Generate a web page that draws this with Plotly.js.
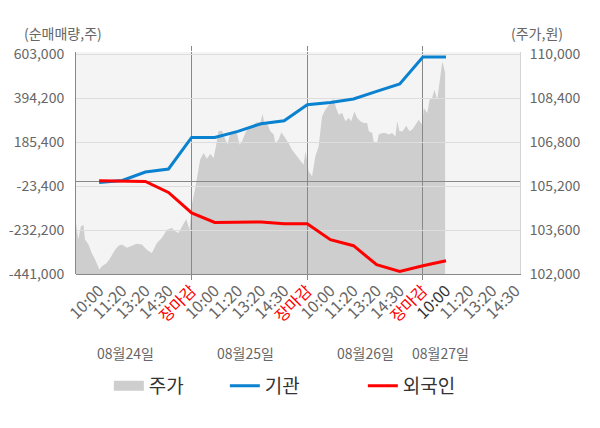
<!DOCTYPE html>
<html>
<head>
<meta charset="utf-8">
<script src="https://cdn.plot.ly/plotly-3.0.1.min.js"></script>
<style>
  html, body { margin: 0; padding: 0; background: #fff; }
  #chart { width: 600px; height: 428px; }
</style>
</head>
<body>
<div id="chart"></div>
<script>
// 주가 (원) - 분봉 흐름을 눈으로 읽은 값
const priceX = [-1.0,-0.9,-0.79,-0.68,-0.61,-0.46,-0.32,-0.17,0.01,0.12,0.22,0.33,0.48,0.69,0.84,0.98,
  1.2,1.42,1.63,1.85,2.06,2.28,2.5,2.71,2.93,3.15,3.29,3.43,3.58,3.77,3.91,
  4.01,4.16,4.26,4.37,4.52,4.66,4.81,4.95,5.05,5.16,5.31,5.45,5.55,5.67,5.81,5.96,
  6.07,6.18,6.32,6.46,6.68,6.83,6.97,7.07,7.14,7.26,7.4,7.55,7.62,7.76,7.88,
  8.05,8.19,8.34,8.56,8.7,8.84,8.93,9.06,9.21,9.35,9.49,9.64,9.78,
  10.0,10.14,10.25,10.36,10.51,10.65,10.79,10.9,11.04,11.16,11.3,11.44,11.59,11.66,11.81,11.87,
  12.02,12.09,12.24,12.38,12.52,12.67,12.81,12.89,12.99,13.13,13.28,13.42,13.56,13.68,13.82,13.97,
  14.04,14.19,14.29,14.4,14.5,14.62,14.72,14.84,14.9,14.96];
const priceY = [103850,103250,103730,103790,103250,103070,102760,102520,102160,102280,102340,102400,102580,102880,103030,103070,
  102950,103030,103100,103070,102880,102760,103130,103310,103610,103670,103550,103490,103730,104000,103610,
  104520,105140,105610,106160,106400,106190,106370,106220,106640,107190,107210,106880,106700,107130,107190,107130,
  106700,106820,107130,107310,107450,107530,107490,107830,107490,107490,107190,107070,106760,106880,107150,
  106950,106760,106520,106280,106090,105970,106460,105730,105550,106280,106630,107730,107970,
  108220,108360,108040,107790,107850,107550,107670,107550,107910,107670,107550,107490,107490,107190,107130,106820,
  106760,107070,107130,107130,107070,107130,107000,107550,107190,107190,107390,107190,107270,107430,107610,107430,
  108040,107850,108340,108400,108700,108340,109000,109720,109550,109310];

// 투자자별 누적 순매매량 (주) - 10:00, 11:20, 13:20, 14:30, 장마감
const slotX = [0,1,2,3,4,5,6,7,8,9,10,11,12,13,14,15];
const instNet = [-6300,3200,43000,57300,207200,207200,235700,272200,286500,362400,373300,389500,425500,460600,588800,588800];
const foreignNet = [1800,-1600,-1600,-53800,-151500,-196100,-196100,-194200,-202300,-202300,-278200,-306700,-396900,-428700,-401600,-377900];

// 축 눈금
const slotLabels = ['10:00','11:20','13:20','14:30','장마감','10:00','11:20','13:20','14:30','장마감',
  '10:00','11:20','13:20','14:30','장마감','10:00','11:20','13:20','14:30'];
const closeSlots = [4, 9, 14];
const netTicks = [-441000,-232200,-23400,185400,394200,603000];
const priceTicks = [102000,103600,105200,106800,108400,110000];
const dayLabels = ['08월24일','08월25일','08월26일','08월27일'];
const dayLabelX = [1.13, 6.33, 11.53, 14.77];

const FONT = '"Noto Sans CJK KR", "Noto Sans", sans-serif';
const fmt = v => v.toLocaleString('en-US');

const tickText = slotLabels.map((s, i) => {
  if (s === '장마감') return '<span style="color:#ff0000">' + s + '</span>';
  if (i === 15) return '<span style="color:#333333">' + s + '</span>';
  return s;
});

const traces = [
  {
    x: priceX, y: priceY, type: 'scatter', mode: 'lines',
    fill: 'tozeroy', fillcolor: '#cecece', line: { width: 0, color: '#cecece' },
    xaxis: 'x', yaxis: 'y', showlegend: false, hoverinfo: 'skip'
  },
  {
    x: [null], y: [null], type: 'scatter', mode: 'lines', name: '주가',
    line: { color: '#cecece', width: 15 }, xaxis: 'x', yaxis: 'y', legendwidth: 71
  },
  {
    x: slotX, y: instNet, type: 'scatter', mode: 'lines', name: '기관',
    line: { color: '#0a82d0', width: 3 }, xaxis: 'x2', yaxis: 'y2', legendwidth: 93
  },
  {
    x: slotX, y: foreignNet, type: 'scatter', mode: 'lines', name: '외국인',
    line: { color: '#ff0000', width: 3 }, xaxis: 'x2', yaxis: 'y2'
  }
];

const xRange = [-1.0, 18.2];

const layout = {
  width: 600, height: 428,
  margin: { l: 76, r: 80, t: 52, b: 154 },
  paper_bgcolor: '#ffffff',
  plot_bgcolor: 'rgba(0,0,0,0)',
  font: { family: FONT, color: '#666666', size: 14 },
  showlegend: true,
  legend: {
    orientation: 'h', x: 0.074, xanchor: 'left', y: -0.5045, yanchor: 'middle',
    font: { size: 19, color: '#333333' }, bgcolor: 'rgba(0,0,0,0)'
  },
  // 가격 영역 (아래 레이어)
  xaxis: {
    range: xRange, domain: [0, 1], anchor: 'y',
    tickmode: 'array', tickvals: slotLabels.map((_, i) => i), ticktext: tickText,
    tickangle: -45, tickfont: { size: 16, color: '#666666' },
    showgrid: false, zeroline: false, showline: true, linecolor: '#888888', ticks: ''
  },
  yaxis: {
    range: [102000, 110072], side: 'right', anchor: 'x',
    tickmode: 'array', tickvals: priceTicks, ticktext: priceTicks.map(fmt),
    tickfont: { size: 14, color: '#666666' }, ticklabelstandoff: 6,
    showgrid: false, zeroline: false, showline: true, linecolor: '#d4d4d4', ticks: ''
  },
  // 순매매량 선 (위 레이어)
  xaxis2: {
    range: xRange, domain: [0, 1], anchor: 'y2',
    tickmode: 'array', tickvals: closeSlots, showticklabels: false,
    showgrid: true, gridcolor: '#888888', gridwidth: 1,
    ticks: 'outside', ticklen: 5, tickcolor: '#888888', mirror: 'ticks',
    zeroline: false, showline: false
  },
  yaxis2: {
    range: [-441000, 612500], side: 'left', anchor: 'x2',
    tickmode: 'array', tickvals: netTicks, ticktext: netTicks.map(fmt),
    tickfont: { size: 14, color: '#666666' }, ticklabelstandoff: 8,
    showgrid: true, gridcolor: '#dddddd', gridwidth: 1,
    zeroline: true, zerolinecolor: '#888888', zerolinewidth: 1,
    showline: true, linecolor: '#888888', ticks: ''
  },
  shapes: [
    { type: 'rect', xref: 'paper', yref: 'paper', x0: 0, x1: 1, y0: 0, y1: 1,
      fillcolor: '#f4f4f4', line: { width: 0 }, layer: 'below' }
  ],
  annotations: [
    { text: '(순매매량,주)', xref: 'paper', yref: 'paper', x: -0.1216, y: 1.0856,
      xanchor: 'left', yanchor: 'middle', showarrow: false, font: { size: 14, color: '#666666' } },
    { text: '(주가,원)', xref: 'paper', yref: 'paper', x: 0.975, y: 1.0856,
      xanchor: 'left', yanchor: 'middle', showarrow: false, font: { size: 14, color: '#666666' } }
  ].concat(dayLabels.map((d, i) => ({
    text: d, xref: 'x', yref: 'paper', x: dayLabelX[i], y: -0.356,
    xanchor: 'center', yanchor: 'middle', showarrow: false, font: { size: 14, color: '#666666' }
  })))
};

Plotly.newPlot('chart', traces, layout, { displayModeBar: false, responsive: false });
</script>
</body>
</html>
